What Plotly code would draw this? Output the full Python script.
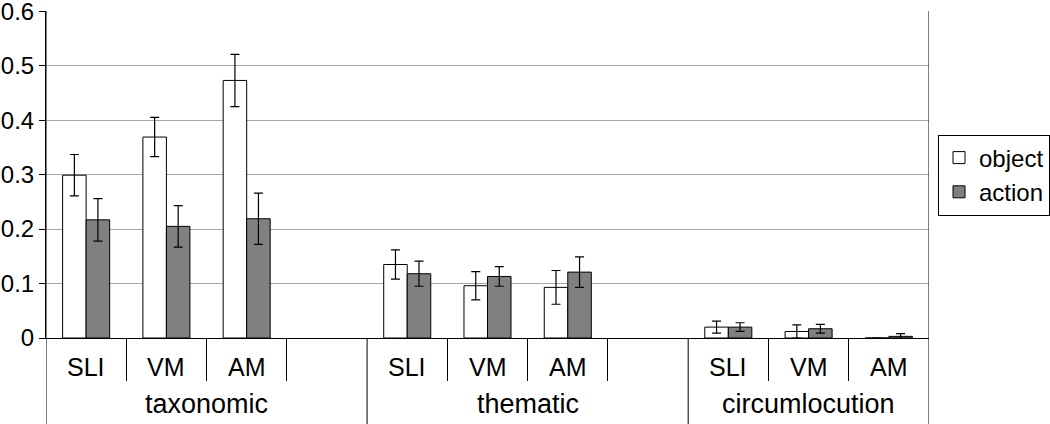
import plotly.graph_objects as go

# ---- data ----
groups = ["taxonomic", "thematic", "circumlocution"]
conditions = ["SLI", "VM", "AM"]
slots_per_group = [4, 4, 3]   # taxonomic & thematic have an empty 4th slot

# values in group order: taxonomic(SLI,VM,AM), thematic(...), circumlocution(...)
object_mean = [0.299, 0.369, 0.473, 0.135, 0.096, 0.093, 0.020, 0.012, 0.000]
object_err = [0.038, 0.036, 0.048, 0.027, 0.026, 0.031, 0.011, 0.012, 0.000]
action_mean = [0.217, 0.205, 0.219, 0.118, 0.113, 0.121, 0.020, 0.017, 0.003]
action_err = [0.039, 0.038, 0.047, 0.023, 0.018, 0.028, 0.008, 0.008, 0.005]

y_ticks = [0, 0.1, 0.2, 0.3, 0.4, 0.5, 0.6]
y_ticktext = ["0", "0.1", "0.2", "0.3", "0.4", "0.5", "0.6"]

# ---- slot positions (computed from structure) ----
xpos, xlab = [], []
group_start = []
start = 0
for g, n in enumerate(slots_per_group):
    group_start.append(start)
    for i, c in enumerate(conditions):
        xpos.append(start + i)
        xlab.append(c)
    start += n
n_slots = start
group_bounds = [s - 0.5 for s in group_start] + [n_slots - 0.5]
inner_ticks = []
for g, n in enumerate(slots_per_group):
    for k in range(1, n):
        inner_ticks.append(group_start[g] + k - 0.5)

FONT = "Liberation Sans, Arial, sans-serif"

fig = go.Figure()
fig.add_trace(go.Bar(
    x=xpos, y=object_mean, name="object",
    marker=dict(color="white", line=dict(color="black", width=1)),
    error_y=dict(type="data", array=object_err, color="black", thickness=1.2, width=4.5),
))
fig.add_trace(go.Bar(
    x=xpos, y=action_mean, name="action",
    marker=dict(color="#808080", line=dict(color="black", width=1)),
    error_y=dict(type="data", array=action_err, color="black", thickness=1.2, width=4.5),
))

W, H = 1050, 424
ml, mr, mt, mb = 46, 121, 11, 86
plot_h = H - mt - mb
bottom_paper = -mb / plot_h

shapes = []
# group dividers (incl. left axis and right border) extending to bottom
for i, b in enumerate(group_bounds):
    top = 1 if i in (0, len(group_bounds) - 1) else 0
    shapes.append(dict(type="line", xref="x", yref="paper", x0=b, x1=b,
                       y0=top, y1=bottom_paper - 0.05,
                       line=dict(color="black", width=1)))

annotations = []
for x, lab in zip(xpos, xlab):
    annotations.append(dict(x=x, y=-29 / plot_h, xref="x", yref="paper",
                            text=lab, showarrow=False, yanchor="middle",
                            font=dict(family=FONT, size=25, color="black")))
for g, name in enumerate(groups):
    cx = group_start[g] + (slots_per_group[g] - 1) / 2
    annotations.append(dict(x=cx, y=-66 / plot_h, xref="x", yref="paper",
                            text=name, showarrow=False, yanchor="middle",
                            font=dict(family=FONT, size=27, color="black")))

fig.update_layout(
    width=W, height=H,
    margin=dict(l=ml, r=mr, t=mt, b=mb, autoexpand=False),
    paper_bgcolor="white", plot_bgcolor="white",
    barmode="group", bargap=0.414, bargroupgap=0,
    font=dict(family=FONT, color="black"),
    showlegend=True,
    legend=dict(xref="container", yref="container",
                x=938 / W, y=1 - 175 / H, xanchor="left", yanchor="middle",
                bordercolor="black", borderwidth=1, bgcolor="white",
                font=dict(family=FONT, size=24, color="black"),
                itemwidth=30, tracegroupgap=0),
    shapes=shapes,
    annotations=annotations,
)
fig.update_xaxes(range=[-0.5, n_slots - 0.5], showgrid=False, zeroline=False,
                 automargin=False,
                 showline=True, linecolor="black", linewidth=1,
                 tickmode="array", tickvals=inner_ticks, ticks="outside",
                 ticklen=42, tickcolor="black", tickwidth=1, showticklabels=False)
fig.update_yaxes(range=[0, 0.6005], showgrid=True, gridcolor="#a6a6a6", gridwidth=1,
                 automargin=False, ticklabeloverflow="allow",
                 zeroline=False, showline=True, linecolor="black", linewidth=1,
                 tickmode="array", tickvals=y_ticks, ticktext=y_ticktext,
                 ticks="outside", ticklen=6, tickcolor="black",
                 tickfont=dict(family=FONT, size=24, color="black"))

fig.write_html("out.html", config={"displayModeBar": False},
               post_script="document.body.style.margin='0';")
